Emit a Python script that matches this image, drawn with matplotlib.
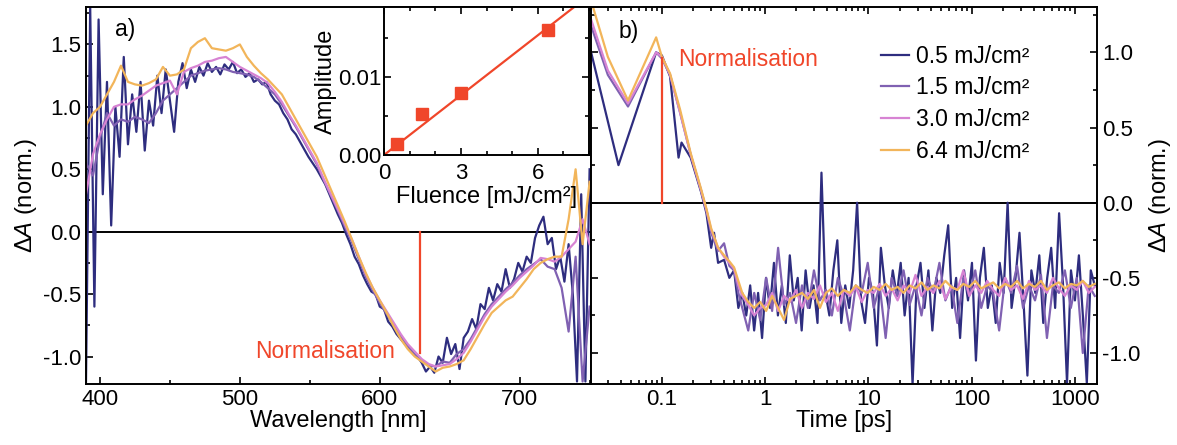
import numpy as np
import matplotlib
matplotlib.use("Agg")
from matplotlib import pyplot as plt
from matplotlib.ticker import MultipleLocator, FixedLocator, LogLocator, NullFormatter

plt.rcParams['font.family'] = ['Liberation Sans', 'DejaVu Sans']
plt.rcParams['mathtext.fontset'] = 'custom'
plt.rcParams['mathtext.rm'] = 'Liberation Sans'
plt.rcParams['mathtext.it'] = 'Liberation Sans:italic'
plt.rcParams['axes.unicode_minus'] = False

# ---- data: panel a) spectra ----
labels = ['0.5 mJ/cm²', '1.5 mJ/cm²', '3.0 mJ/cm²', '6.4 mJ/cm²']
colors = ['#2e2d7f', '#8061b2', '#d783d3', '#f2b55a']

# 0.5 mJ/cm², every 3 nm, 390..750
spec_05 = [-1.2, 1.8, -0.6, 1.7, 0.3, 1.2, 0.05, 1.0, 0.6, 1.4,
           0.7, 1.1, 0.8, 1.2, 0.65, 1.05, 0.85, 1.25, 0.95, 1.3,
           1.05, 0.8, 1.2, 1.35, 1.15, 1.3, 1.2, 1.32, 1.25, 1.35,
           1.28, 1.32, 1.26, 1.34, 1.3, 1.36, 1.27, 1.3, 1.24, 1.27,
           1.2, 1.22, 1.18, 1.2, 1.1, 1.05, 1.02, 0.95, 0.9, 0.82,
           0.78, 0.72, 0.66, 0.6, 0.55, 0.5, 0.44, 0.38, 0.3, 0.22,
           0.14, 0.07, -0.02, -0.1, -0.2, -0.26, -0.35, -0.42, -0.48, -0.5,
           -0.6, -0.62, -0.72, -0.76, -0.82, -0.86, -0.9, -0.92, -0.98, -1.0,
           -1.05, -1.12, -1.08, -1.13, -1.0, -1.05, -0.85, -0.98, -0.9, -1.1,
           -0.85, -0.8, -0.7, -0.78, -0.58, -0.62, -0.45, -0.55, -0.42, -0.48,
           -0.3, -0.45, -0.38, -0.25, -0.32, -0.2, -0.25, -0.05, 0.05, 0.12,
           -0.1, -0.05, -0.3, -0.2, -0.4, -0.1, -0.5, -1.2, 0.3, -1.2, 0.5]
# other fluences, every 5 nm, 390..750
spec_15 = [0.55, 0.45, 0.75, 0.95, 0.85, 0.9, 0.88, 0.92, 0.9, 0.87,
           0.95, 1.05, 1.1, 1.15, 1.2, 1.25, 1.27, 1.29, 1.3, 1.31,
           1.3, 1.28, 1.27, 1.26, 1.24, 1.2, 1.15, 1.1, 1.02, 0.93,
           0.84, 0.74, 0.64, 0.54, 0.41, 0.29, 0.17, 0.04, -0.08, -0.22,
           -0.36, -0.47, -0.57, -0.66, -0.75, -0.84, -0.92, -0.98, -1.03, -1.07,
           -1.08, -1.04, -1.05, -0.98, -0.94, -0.86, -0.76, -0.66, -0.58, -0.52,
           -0.46, -0.41, -0.35, -0.3, -0.26, -0.22, -0.28, -0.3, -0.45, -0.8,
           -0.2, -1.2, -0.6]
spec_30 = [0.3, 0.62, 0.78, 0.9, 1.0, 1.02, 1.02, 1.06, 1.09, 1.13,
           1.17, 1.19, 1.21, 1.1, 1.28, 1.31, 1.33, 1.36, 1.37, 1.39,
           1.4, 1.36, 1.32, 1.29, 1.26, 1.23, 1.19, 1.12, 1.04, 0.94,
           0.85, 0.75, 0.65, 0.55, 0.42, 0.3, 0.18, 0.06, -0.06, -0.2,
           -0.34, -0.45, -0.55, -0.64, -0.73, -0.82, -0.9, -0.96, -1.02, -1.06,
           -1.08, -1.07, -1.06, -1.02, -0.97, -0.88, -0.78, -0.68, -0.6, -0.54,
           -0.48, -0.43, -0.37, -0.32, -0.27, -0.21, -0.22, -0.24, -0.2, -0.14,
           -0.08, 0.1, -0.1]
spec_64 = [0.85, 0.95, 1.0, 1.1, 1.2, 1.33, 1.2, 1.18, 1.17, 1.19,
           1.22, 1.32, 1.25, 1.26, 1.3, 1.47, 1.52, 1.55, 1.47, 1.46,
           1.45, 1.47, 1.5, 1.4, 1.33, 1.27, 1.22, 1.16, 1.1, 1.0,
           0.9, 0.8, 0.7, 0.6, 0.47, 0.34, 0.21, 0.08, -0.06, -0.2,
           -0.33, -0.45, -0.55, -0.65, -0.76, -0.86, -0.94, -1.0, -1.04, -1.08,
           -1.12, -1.09, -1.08, -1.06, -1.03, -0.94, -0.84, -0.74, -0.65, -0.6,
           -0.55, -0.52, -0.45, -0.38, -0.3, -0.25, -0.22, -0.2, -0.2, 0.1,
           0.5, -0.1, 0.4]
spectra = [spec_05, spec_15, spec_30, spec_64]
norm_wl = 629

# ---- data: inset ----
fluence = [0.5, 1.5, 3.0, 6.4]
amplitude = [0.0014, 0.0053, 0.0080, 0.0160]
fit_slope = 0.00256
fit_x = [0, 8]

# ---- data: panel b) kinetics ----
t_early_05 = [0.02, 0.038, 0.088, 0.1, 0.12, 0.145, 0.155, 0.19, 0.24, 0.27,
              0.3, 0.32, 0.35, 0.4, 0.45, 0.5, 0.55]
k_early_05 = [1.04, 0.25, 1.0, 0.98, 0.84, 0.3, 0.4, 0.3, 0.07, -0.07,
              -0.3, -0.2, -0.4, -0.38, -0.5, -0.45, -0.7]
t_early = [0.016, 0.03, 0.047, 0.088, 0.1, 0.12, 0.15, 0.19, 0.24, 0.27,
           0.3, 0.35, 0.4, 0.45, 0.5, 0.55]
k_early_15 = [1.4, 0.85, 0.64, 1.0, 0.96, 0.85, 0.6, 0.32, 0.08, -0.05,
              -0.2, -0.32, -0.27, -0.42, -0.45, -0.6]
k_early_30 = [1.45, 0.88, 0.66, 1.0, 0.97, 0.85, 0.6, 0.32, 0.08, -0.05,
              -0.18, -0.3, -0.36, -0.4, -0.44, -0.55]
k_early_64 = [1.6, 0.97, 0.68, 1.10, 0.97, 0.86, 0.62, 0.33, 0.09, -0.04,
              -0.17, -0.3, -0.35, -0.39, -0.43, -0.52]

# plateau, log-spaced delays from 0.6 to 1550 ps
k_late_05 = [-0.6, -0.75, -0.55, -0.85, -0.6, -0.9, -0.5, -0.7, -0.4, -0.75,
             -0.55, -0.8, -0.35, -0.65, -0.5, -0.85, -0.45, -0.7, -0.55, -0.8,
             0.2, -0.6, -0.75, -0.45, -0.25, -0.8, -0.55, -0.7, -0.45, 0.0,
             -0.65, -0.8, -0.5, -0.6, -0.95, -0.3, -0.55, -0.7, -0.45, -0.62,
             -0.4, -0.75, -0.5, -1.21, -0.55, -0.4, -0.7, -0.45, -0.85, -0.5,
             -0.6, -0.35, -0.15, -0.7, -0.5, -0.9, -0.45, -0.65, -0.4, -1.05,
             -0.5, -0.3, -0.7, -0.55, -0.8, -0.4, -0.6, 0.0, -0.7, -0.5,
             -0.2, -0.65, -1.15, -0.45, -0.6, -0.35, -0.8, -0.5, -0.3, -0.7,
             -0.07, -0.55, -1.2, -0.45, -0.65, -0.35, -0.75, -1.2, -0.45, -0.55]
k_late_15 = [-0.7, -0.85, -0.6, -0.78, -0.5, -0.72, -0.3, -0.68, -0.6, -0.8,
             -0.55, -0.7, -0.45, -0.65, -0.58, -0.75, -0.5, -0.62, -0.85, -0.55,
             -0.6, -0.4, -0.7, -0.55, -0.9, -0.5, -0.62, -0.45, -0.68, -0.55,
             -0.75, -0.5, -0.6, -0.4, -0.65, -0.55, -0.8, -0.5, -0.62, -0.45,
             -0.7, -0.55, -0.6, -0.85, -0.5, -0.6, -0.42, -0.7, -0.55, -0.65,
             -0.48, -0.9, -0.55, -0.6, -0.45, -0.7, -0.5, -1.0, -0.55, -0.62]
k_late_30 = [-0.62, -0.68, -0.75, -0.7, -0.68, -0.6, -0.72, -0.62, -0.66, -0.58,
             -0.7, -0.6, -0.64, -0.55, -0.66, -0.6, -0.72, -0.58, -0.62, -0.56,
             -0.66, -0.58, -0.6, -0.54, -0.62, -0.57, -0.65, -0.55, -0.6, -0.48,
             -0.62, -0.56, -0.6, -0.52, -0.64, -0.56, -0.58, -0.45, -0.62, -0.55,
             -0.6, -0.52, -0.58, -0.62, -0.5, -0.58, -0.55, -0.64, -0.52, -0.58,
             -0.55, -0.6, -0.5, -0.57, -0.62, -0.55, -0.58, -0.52, -0.6, -0.56]
k_late_64 = [-0.6, -0.66, -0.7, -0.66, -0.72, -0.62, -0.7, -0.78, -0.64, -0.62,
             -0.6, -0.64, -0.58, -0.7, -0.6, -0.57, -0.62, -0.58, -0.6, -0.55,
             -0.58, -0.6, -0.56, -0.58, -0.54, -0.58, -0.56, -0.6, -0.55, -0.57,
             -0.53, -0.58, -0.55, -0.57, -0.52, -0.56, -0.58, -0.54, -0.56, -0.52,
             -0.57, -0.55, -0.53, -0.57, -0.54, -0.56, -0.52, -0.57, -0.54, -0.56,
             -0.52, -0.58, -0.55, -0.53, -0.57, -0.54, -0.55, -0.52, -0.56, -0.54]

red = '#f0462a'
fs = 16.5      # text
fl = 17        # axis labels
ft = 16        # tick labels

fig = plt.figure(figsize=(11.77, 4.45), dpi=100)
axa = fig.add_axes([86 / 1177, 61 / 445, 505 / 1177, 377 / 445])
axb = fig.add_axes([591 / 1177, 61 / 445, 506 / 1177, 377 / 445])

# panel a
for vals, c, lab in zip(spectra, colors, labels):
    wl = np.linspace(390, 750, len(vals))
    axa.plot(wl, vals, color=c, lw=1.6, label=lab)
axa.axhline(0, color='black', lw=1.4, zorder=1)
axa.plot([norm_wl, norm_wl], [0, -0.97], color=red, lw=1.6)
axa.text(611, -0.96, 'Normalisation', color=red, fontsize=fs, ha='right', va='center')
axa.text(0.057, 0.94, 'a)', transform=axa.transAxes, fontsize=fs, ha='left', va='center')
axa.set_xlim(390, 751)
axa.set_ylim(-1.22, 1.8)
axa.xaxis.set_major_locator(MultipleLocator(100))
axa.xaxis.set_minor_locator(MultipleLocator(50))
axa.yaxis.set_major_locator(MultipleLocator(0.5))
axa.yaxis.set_minor_locator(MultipleLocator(0.25))
axa.yaxis.set_major_formatter(plt.FormatStrFormatter('%.1f'))
axa.tick_params(which='both', direction='in', labelsize=ft, width=1.2, right=False, top=False)
axa.tick_params(which='major', length=5)
axa.tick_params(which='minor', length=3)
axa.set_xlabel('Wavelength [nm]', fontsize=fl, labelpad=0)
axa.set_ylabel(r'$\Delta\mathit{A}$ (norm.)', fontsize=fl, labelpad=3)

# inset
axi = fig.add_axes([384 / 1177, 290 / 445, 205 / 1177, 148 / 445])
axi.plot(fit_x, [fit_slope * x for x in fit_x], color=red, lw=1.6)
axi.plot(fluence, amplitude, 's', color=red, ms=9, clip_on=False)
axi.set_xlim(0, 8)
axi.set_ylim(0, 0.019)
axi.xaxis.set_major_locator(MultipleLocator(3))
axi.xaxis.set_minor_locator(MultipleLocator(1))
axi.yaxis.set_major_locator(MultipleLocator(0.01))
axi.yaxis.set_minor_locator(MultipleLocator(0.005))
axi.yaxis.set_major_formatter(plt.FormatStrFormatter('%.2f'))
axi.tick_params(which='both', direction='in', labelsize=ft, width=1.2,
                top=True, right=True)
axi.tick_params(axis='x', pad=6)
axi.tick_params(axis='y', pad=2)
axi.tick_params(which='major', length=5)
axi.tick_params(which='minor', length=3)
axi.set_xlabel('Fluence [mJ/cm²]', fontsize=fl, labelpad=1)
axi.set_ylabel('Amplitude', fontsize=fl, labelpad=1)

# panel b
early_t = [t_early_05, t_early, t_early, t_early]
early_k = [k_early_05, k_early_15, k_early_30, k_early_64]
late_k = [k_late_05, k_late_15, k_late_30, k_late_64]
for te, ke, kl, c, lab in zip(early_t, early_k, late_k, colors, labels):
    t = list(te) + list(np.geomspace(0.6, 1550, len(kl)))
    axb.plot(t, list(ke) + list(kl), color=c, lw=1.6, label=lab)
axb.axhline(0, color='black', lw=1.4, zorder=1)
axb.plot([0.1, 0.1], [0, 0.96], color=red, lw=1.6)
axb.text(0.145, 0.95, 'Normalisation', color=red, fontsize=fs, ha='left', va='center')
axb.text(0.055, 0.934, 'b)', transform=axb.transAxes, fontsize=fs, ha='left', va='center')
axb.set_xscale('log')
axb.set_xlim(0.0206, 1630)
axb.set_ylim(-1.206, 1.302)
axb.xaxis.set_major_locator(FixedLocator([0.1, 1, 10, 100, 1000]))
axb.set_xticklabels(['0.1', '1', '10', '100', '1000'])
axb.xaxis.set_minor_locator(LogLocator(base=10, subs=np.arange(2, 10), numticks=20))
axb.xaxis.set_minor_formatter(NullFormatter())
axb.yaxis.set_major_locator(MultipleLocator(0.5))
axb.yaxis.set_minor_locator(MultipleLocator(0.25))
axb.yaxis.set_major_formatter(plt.FormatStrFormatter('%.1f'))
axb.yaxis.tick_right()
axb.yaxis.set_label_position('right')
axb.tick_params(which='both', direction='in', labelsize=ft, width=1.2,
                top=True, left=True, right=True)
axb.tick_params(which='major', length=5)
axb.tick_params(which='minor', length=3)
axb.set_xlabel('Time [ps]', fontsize=fl, labelpad=0)
axb.set_ylabel(r'$\Delta\mathit{A}$ (norm.)', fontsize=fl, labelpad=5)
axb.legend(loc='upper left', bbox_to_anchor=(0.574, 0.9), frameon=False, fontsize=fs,
           handlelength=1.2, handletextpad=0.3, labelspacing=0.38, borderpad=0,
           borderaxespad=0)

for ax in (axa, axb, axi):
    for s in ax.spines.values():
        s.set_linewidth(1.4)

fig.savefig('out.png', dpi=100)
